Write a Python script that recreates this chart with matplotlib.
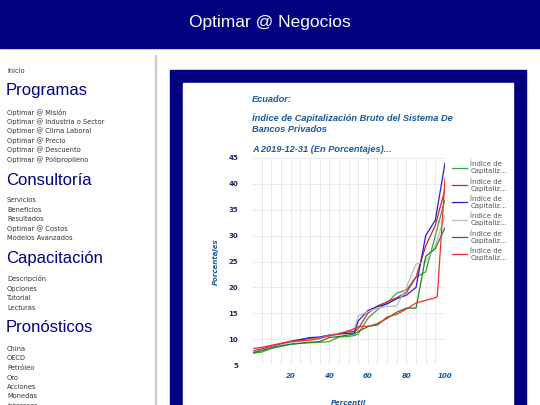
import matplotlib
matplotlib.use("Agg")
import matplotlib.pyplot as plt
from matplotlib.patches import Rectangle

W, H = 540, 405
x = [1, 5, 10, 15, 20, 25, 30, 35, 40, 45, 50, 53, 55, 60, 65, 70, 75, 80, 85, 90, 95, 100]
blue = [7.5, 7.9, 8.4, 9, 9.5, 9.9, 10.3, 10.4, 10.8, 11, 11.1, 11.2, 13.5, 15.5, 16.3, 16.8, 17.8, 18.5, 20, 30, 33, 44]
red_a_x = x[:-1] + [96, 100]
red_a = [8.2, 8.4, 8.8, 9.2, 9.5, 9.7, 9.8, 10.1, 10.7, 11, 11.6, 12, 12.4, 12.5, 12.7, 14.3, 14.8, 15.8, 17, 17.5, 18, 18.2, 41]
red_b = [7.8, 8.1, 8.6, 9.1, 9.6, 9.9, 10.1, 10.3, 10.6, 11, 11.4, 11.5, 12, 15, 16.4, 17.2, 18, 19, 22, 28, 32, 39]
gray = [7.6, 7.9, 8.4, 8.9, 9.3, 9.6, 9.9, 10.2, 10.7, 11.2, 11.6, 12, 14.5, 15.3, 16, 16.3, 16.4, 20, 24.5, 25, 28, 34]
green_a = [7.3, 7.5, 8.2, 8.6, 9, 9.2, 9.3, 9.4, 9.5, 10.4, 10.5, 10.7, 11, 14, 15.7, 17, 18.9, 19.5, 22, 23, 30, 37]
green_b = [7.4, 7.8, 8.3, 8.7, 9, 9.2, 9.4, 9.5, 10.3, 10.5, 10.8, 11, 11.5, 12.4, 13, 14, 15.2, 16, 16, 26, 27.5, 31.5]
series = [(x, green_a, "#3aa63a"), (x, red_b, "#e02020"), (x, blue, "#2020d0"),
          (x, gray, "#bbbbbb"), (x, green_b, "#208020"), (red_a_x, red_a, "#f03030")]
legend_label = "Índice de\nCapitaliz..."

menu = [("Inicio", None, 71),
        ("Programas", "h", 91),
        ("Optimar @ Misión", None, 112), ("Optimar @ Industria o Sector", None, 121.5),
        ("Optimar @ Clima Laboral", None, 131), ("Optimar @ Precio", None, 140.5),
        ("Optimar @ Descuento", None, 150), ("Optimar @ Polipropileno", None, 159.5),
        ("Consultoría", "h", 181),
        ("Servicios", None, 200), ("Beneficios", None, 209.5), ("Resultados", None, 219),
        ("Optimar @ Costos", None, 228.5), ("Modelos Avanzados", None, 238),
        ("Capacitación", "h", 259),
        ("Descripción", None, 279), ("Opciones", None, 288.5), ("Tutorial", None, 298), ("Lecturas", None, 307.5),
        ("Pronósticos", "h", 328),
        ("China", None, 349), ("OECD", None, 358.5), ("Petróleo", None, 368), ("Oro", None, 377.5),
        ("Acciones", None, 387), ("Monedas", None, 396.5), ("Intereses", None, 406)]

fig = plt.figure(figsize=(W / 100, H / 100), dpi=100)
fig.patch.set_facecolor("white")

def R(x0, y0, w, h, c):
    fig.patches.append(Rectangle((x0 / W, 1 - (y0 + h) / H), w / W, h / H,
                                 transform=fig.transFigure, color=c, zorder=0))

def T(px, py, s, **kw):
    fig.text(px / W, 1 - py / H, s, **kw)

R(0, 0, W, 48, "#000080")
T(270, 23, "Optimar @ Negocios", color="white", fontsize=12.5, ha="center", va="center", family="Liberation Sans")
R(155, 55, 1.2, 350, "#cccccc")
R(170, 70, 356, 340, "#000080")
R(183, 83, 330, 330, "white")

for s, k, py in menu:
    if k == "h":
        T(6, py, s, color="#000080", fontsize=12, va="center", family="Liberation Sans")
    else:
        T(7, py, s, color="#333333", fontsize=4.8, va="center")

tc = "#1a5a9a"
kw = dict(color=tc, fontsize=6.7, style="italic", weight="bold", va="center", family="Liberation Sans")
T(252, 99, "Ecuador:", **kw)
T(252, 118, "Índice de Capitalización Bruto del Sistema De", **kw)
T(252, 130, "Bancos Privados", **kw)
T(252, 150, "A 2019-12-31 (En Porcentajes)...", **kw)
T(216, 262, "Porcentajes", color=tc, fontsize=5, style="italic", weight="bold", va="center", ha="center", rotation=90)
T(348, 403, "Percentil", color=tc, fontsize=5, style="italic", weight="bold", va="center", ha="center")

ax = fig.add_axes([252 / W, 1 - 365 / H, 193 / W, 207 / H], zorder=3)
ax.set_facecolor("white")
for xs, ys, c in series:
    ax.plot(xs, ys, color=c, lw=0.9, label=legend_label)
ax.set_xlim(0, 100)
ax.set_ylim(5, 45)
ax.set_xticks([20, 40, 60, 80, 100])
ax.set_xticks(range(5, 100, 5), minor=True)
ax.set_yticks(range(5, 46, 5))
ax.grid(True, which="both", color="#e6e6e6", lw=0.6)
for s in ax.spines.values():
    s.set_visible(False)
ax.tick_params(length=0, labelsize=5, colors="#1a2a6a", which="both")
for lab in ax.get_xticklabels():
    lab.set_fontweight("bold"); lab.set_fontstyle("italic"); lab.set_color(tc)
for lab in ax.get_yticklabels():
    lab.set_fontweight("bold")
ax.tick_params(axis="x", pad=6)
ax.tick_params(axis="y", pad=10)
ax.legend(loc="upper left", bbox_to_anchor=(1.02, 1.0), frameon=False, fontsize=5,
          handlelength=2.2, labelspacing=0.55, labelcolor="#555555", borderaxespad=0,
          handletextpad=0.5)

fig.savefig("out.png", dpi=100)
